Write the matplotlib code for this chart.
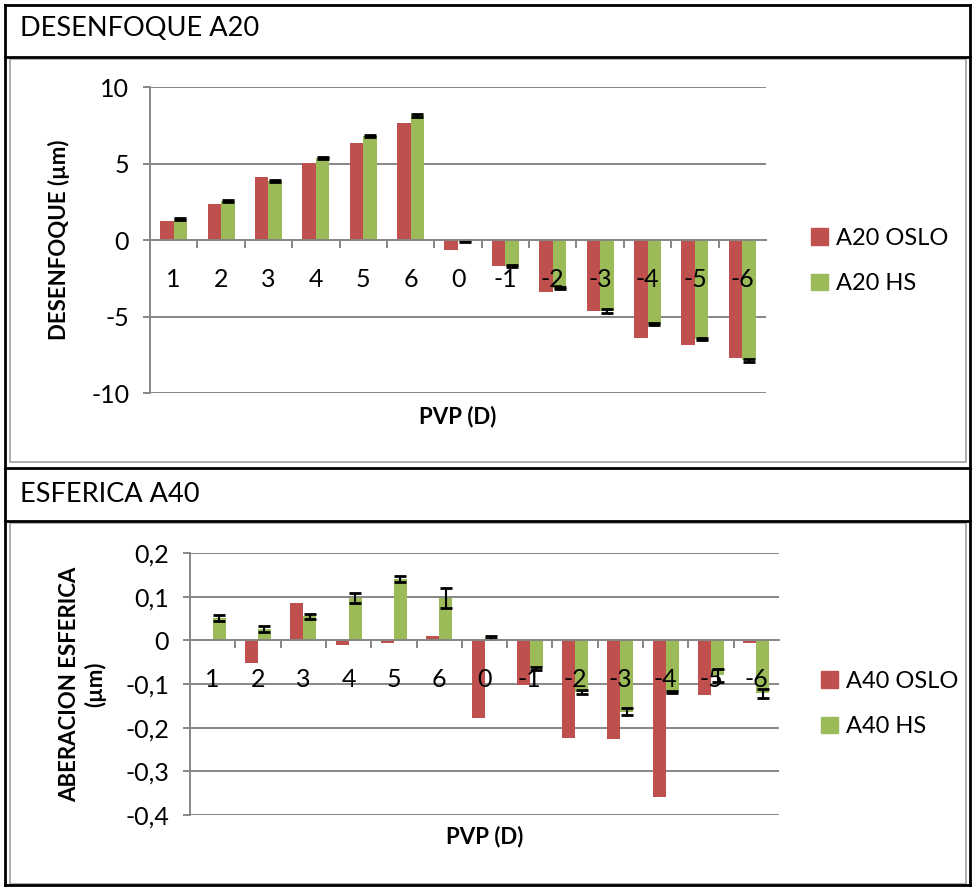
import matplotlib
matplotlib.use("Agg")
import matplotlib.pyplot as plt
from matplotlib.lines import Line2D
from matplotlib.patches import Rectangle, Patch
import numpy as np

plt.rcParams['font.family'] = ['Lato', 'DejaVu Sans']

# datos
pvp = ['1', '2', '3', '4', '5', '6', '0', '-1', '-2', '-3', '-4', '-5', '-6']

a20_oslo = [1.24, 2.33, 4.11, 5.02, 6.33, 7.67, -0.67, -1.67, -3.41, -4.67, -6.41, -6.87, -7.70]
a20_hs = [1.37, 2.54, 3.85, 5.35, 6.80, 8.15, -0.08, -1.70, -3.15, -4.62, -5.50, -6.48, -7.87]
a20_hs_err = [0.08, 0.08, 0.08, 0.08, 0.08, 0.08, 0.05, 0.08, 0.08, 0.12, 0.08, 0.08, 0.08]

a40_oslo = [0.0, -0.053, 0.085, -0.011, -0.006, 0.009, -0.177, -0.103, -0.224, -0.227, -0.358, -0.125, -0.005]
a40_hs = [0.052, 0.026, 0.055, 0.097, 0.141, 0.097, 0.007, -0.064, -0.118, -0.163, -0.118, -0.080, -0.121]
a40_hs_err = [0.007, 0.006, 0.006, 0.011, 0.007, 0.023, 0.004, 0.004, 0.004, 0.008, 0.003, 0.015, 0.010]

RED = '#C0504D'
GREEN = '#9BBB59'
GRAY = '#868686'

W, H = 974, 888
fig = plt.figure(figsize=(W / 100, H / 100), dpi=100)


def fx(px):
    return px / W


def fy(py):
    return 1 - py / H


def hline(y, x0, x1, color='black', lw=2.0):
    fig.add_artist(Line2D([fx(x0), fx(x1)], [fy(y), fy(y)], color=color, lw=lw))


def vline(x, y0, y1, color='black', lw=2.0):
    fig.add_artist(Line2D([fx(x), fx(x)], [fy(y0), fy(y1)], color=color, lw=lw))


# tabla
for y in [5, 57, 468, 521, 885]:
    hline(y, 5, 970)
vline(5, 5, 885)
vline(970, 5, 885)
# marcos grises de los graficos
for y0, y1 in [(59, 462), (523, 884)]:
    fig.add_artist(Rectangle((fx(10), fy(y1)), fx(966) - fx(10), fy(y0) - fy(y1),
                             fill=False, edgecolor='#A0A0A0', lw=1.2))

fig.text(fx(20), fy(29), 'DESENFOQUE A20', fontsize=19.5, va='center', ha='left')
fig.text(fx(20), fy(494), 'ESFERICA A40', fontsize=19.5, va='center', ha='left')


def chart(box, oslo, hs, err, ylim, yticks, ylabels, ylab, legend_labels, legend_pos, ylab_x):
    ax = fig.add_axes(box)
    x = np.arange(len(pvp))
    w = 1 / 3.5
    for t in yticks:
        if t != 0:
            ax.axhline(t, color=GRAY, lw=1.4, zorder=0.5)
    ax.bar(x - w / 2, oslo, w, color=RED, zorder=1)
    ax.bar(x + w / 2, hs, w, color=GREEN, zorder=1)
    ax.errorbar(x + w / 2, hs, yerr=err, fmt='none', ecolor='black',
                capsize=4.5, elinewidth=1.5, capthick=2, zorder=1.5)
    ax.set_xlim(-0.5, len(pvp) - 0.5)
    ax.set_ylim(*ylim)
    ax.set_yticks(yticks, ylabels)
    for s in ['top', 'right']:
        ax.spines[s].set_visible(False)
    ax.spines['left'].set_color(GRAY)
    ax.spines['left'].set_linewidth(1.4)
    ax.spines['bottom'].set_position(('data', 0))
    ax.spines['bottom'].set_color(GRAY)
    ax.spines['bottom'].set_linewidth(1.4)
    ax.set_xticks(np.arange(0.5, len(pvp) - 0.5, 1))
    ax.set_xticklabels([])
    ax.set_xticks(x, pvp, minor=True)
    ax.tick_params(axis='x', which='major', direction='out', length=6, width=1.4, color=GRAY)
    ax.tick_params(axis='x', which='minor', length=0, pad=20, labelsize=18)
    ax.tick_params(axis='y', direction='out', length=5, width=1.4, color=GRAY,
                   pad=10, labelsize=18)
    ax.set_ylabel(ylab, fontsize=16, fontweight='bold')
    ax.yaxis.set_label_coords(ylab_x, 0.5)
    ax.set_xlabel('PVP (D)', fontsize=16, fontweight='bold')
    ax.xaxis.set_label_coords(0.5, -0.04)
    handles = [Patch(color=RED), Patch(color=GREEN)]
    fig.legend(handles, legend_labels, loc='center left', bbox_to_anchor=legend_pos,
               frameon=False, fontsize=17, handlelength=0.7, handleheight=0.7,
               handletextpad=0.35, labelspacing=1.05)
    return ax


ax1 = chart([fx(150), fy(393), fx(766) - fx(150), fy(87) - fy(393)],
            a20_oslo, a20_hs, a20_hs_err, (-10, 10), [-10, -5, 0, 5, 10],
            ['-10', '-5', '0', '5', '10'], 'DESENFOQUE (µm)',
            ['A20 OSLO', 'A20 HS'], (fx(790), fy(261)), (70 - 150) / 616)

ax2 = chart([fx(190), fy(815), fx(779) - fx(190), fy(553) - fy(815)],
            a40_oslo, a40_hs, a40_hs_err, (-0.4, 0.2),
            [-0.4, -0.3, -0.2, -0.1, 0, 0.1, 0.2],
            ['-0,4', '-0,3', '-0,2', '-0,1', '0', '0,1', '0,2'],
            'ABERACION ESFERICA\n(µm)', ['A40 OSLO', 'A40 HS'], (fx(800), fy(704)),
            (106 - 190) / 589)

fig.savefig('out.png', dpi=100)
